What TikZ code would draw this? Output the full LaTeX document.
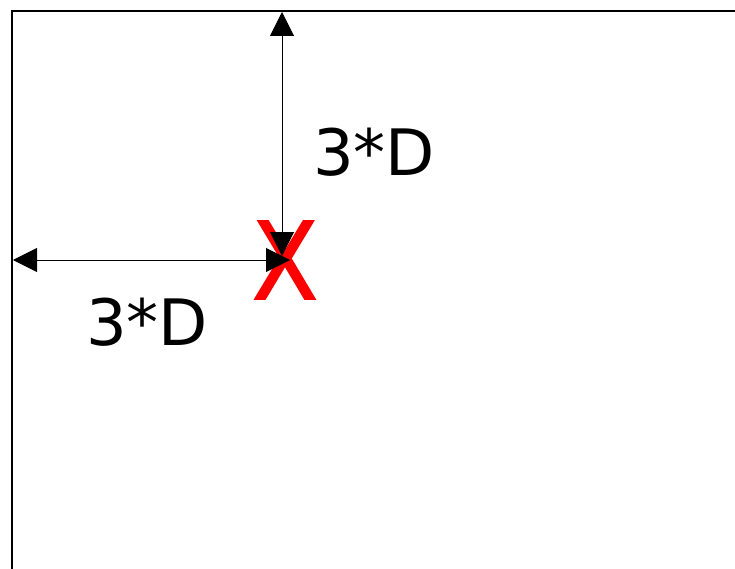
\documentclass[tikz,border=0pt]{standalone}
\usepackage{fontspec}
\setmainfont{DejaVu Sans}
\newfontfamily\xmarkfont[FakeBold=1.5]{DejaVu Sans}
\usetikzlibrary{arrows.meta}
\begin{document}
\begin{tikzpicture}[x=1pt,y=-1pt,
  frame/.style={line width=2pt,black},
  dim/.style={line width=1pt,black,{Triangle[length=24pt,width=24pt]}-{Triangle[length=24pt,width=24pt]}},
  lab/.style={inner sep=0pt,font=\fontsize{64}{76}\selectfont}]
\useasboundingbox (0,0) rectangle (735,569);
\draw[frame] (12,600) -- (12,11) -- (760,11);
\node[inner sep=0pt,text=red,font=\xmarkfont\fontsize{107}{120}\selectfont] (x) at (285,260) {\scalebox{0.9}[1]{X}};
\coordinate (top) at (282,12);
\coordinate (vend) at (282,256);
\coordinate (left) at (13,260);
\coordinate (hend) at (290,260);
\draw[dim] (top) -- (vend);
\draw[dim] (left) -- (hend);
\node[lab] (l1) at (374,152) {3*D};
\node[lab] (l2) at (147,322) {3*D};
\end{tikzpicture}
\end{document}
